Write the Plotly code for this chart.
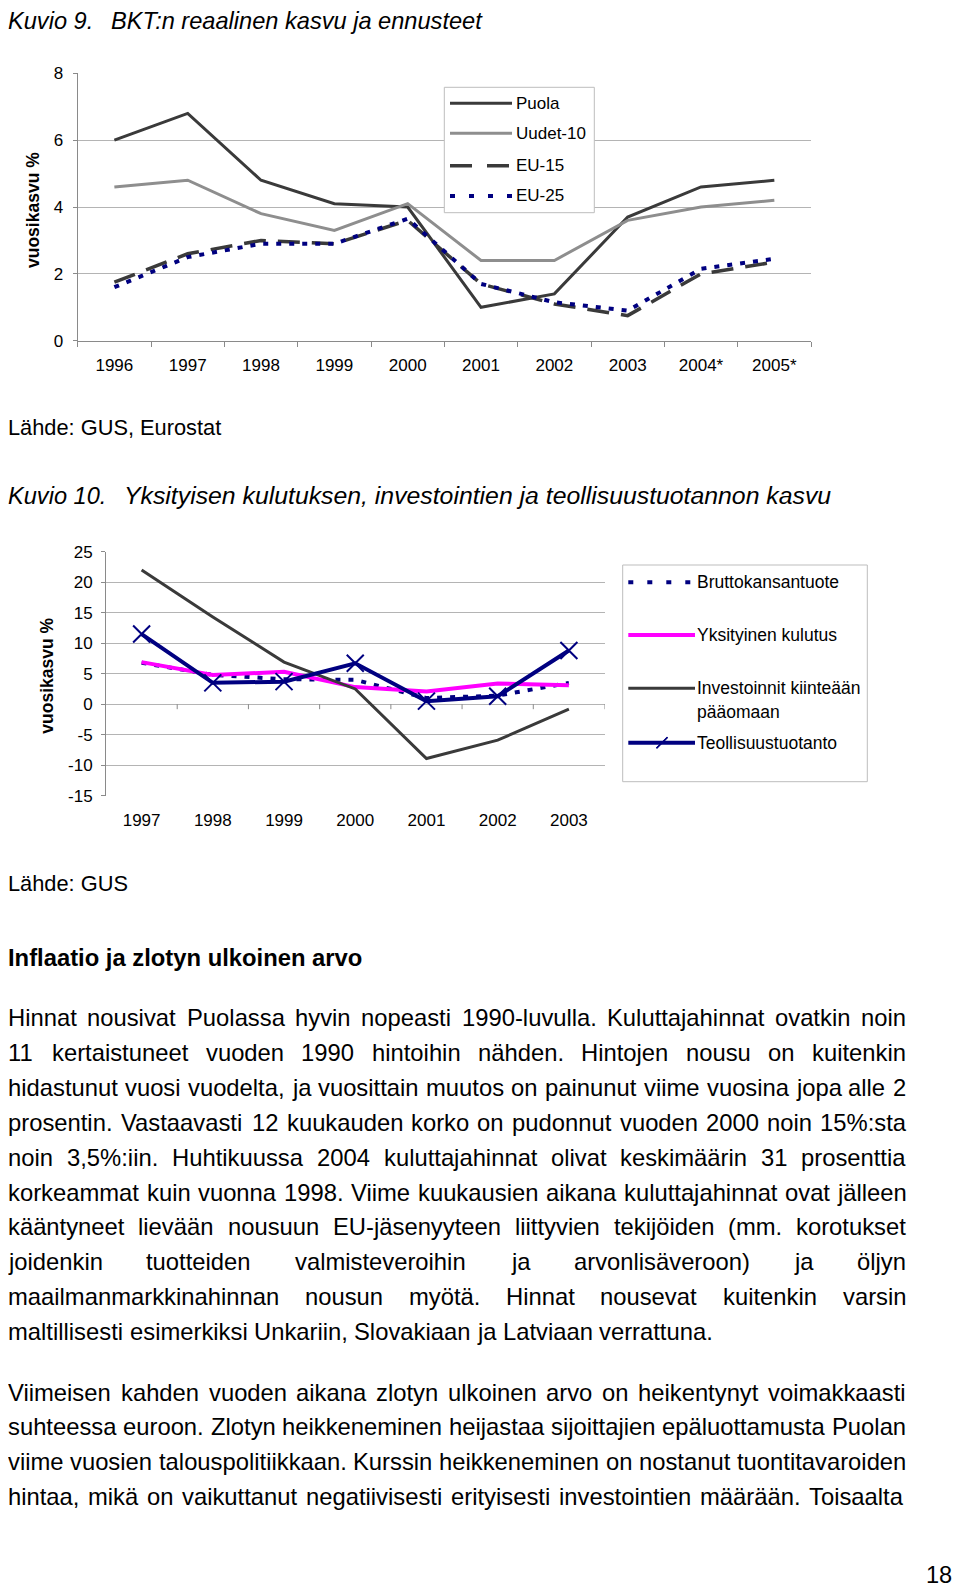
import plotly.graph_objects as go

W, H = 960, 1590
OFF = 8  # the page body margin shifts the figure by this many pixels
FONT = "Liberation Sans, Arial, sans-serif"

# ── Data: Kuvio 9 ────────────────────────────────────────────────────────────
YEARS_9 = ["1996", "1997", "1998", "1999", "2000", "2001", "2002", "2003", "2004*", "2005*"]
PUOLA = [6.0, 6.8, 4.8, 4.1, 4.0, 1.0, 1.4, 3.7, 4.6, 4.8]
UUDET_10 = [4.6, 4.8, 3.8, 3.3, 4.1, 2.4, 2.4, 3.6, 4.0, 4.2]
EU_15 = [1.75, 2.6, 3.0, 2.9, 3.6, 1.7, 1.1, 0.75, 2.0, 2.35]
EU_25 = [1.6, 2.5, 2.9, 2.9, 3.65, 1.7, 1.15, 0.9, 2.15, 2.45]
Y9_TICKS = [0, 2, 4, 6, 8]

# ── Data: Kuvio 10 ───────────────────────────────────────────────────────────
YEARS_10 = ["1997", "1998", "1999", "2000", "2001", "2002", "2003"]
BKT = [6.8, 4.8, 4.1, 4.0, 1.0, 1.4, 3.5]
KULUTUS = [6.9, 4.8, 5.3, 2.8, 2.1, 3.4, 3.1]
INVESTOINNIT = [22.0, 14.3, 6.9, 2.5, -8.9, -5.9, -0.8]
TEOLLISUUS = [11.5, 3.5, 3.7, 6.7, 0.5, 1.3, 8.8]
Y10_TICKS = [-15, -10, -5, 0, 5, 10, 15, 20, 25]
Y10_LABELS = ["-15", "-10", "-5", "0", "5", "10", "15", "20", "25"]

# ── Body text ────────────────────────────────────────────────────────────────
PARA_1 = [
    "Hinnat nousivat Puolassa hyvin nopeasti 1990-luvulla. Kuluttajahinnat ovatkin noin",
    "11 kertaistuneet vuoden 1990 hintoihin nähden. Hintojen nousu on kuitenkin",
    "hidastunut vuosi vuodelta, ja vuosittain muutos on painunut viime vuosina jopa alle 2",
    "prosentin. Vastaavasti 12 kuukauden korko on pudonnut vuoden 2000 noin 15%:sta",
    "noin 3,5%:iin. Huhtikuussa 2004 kuluttajahinnat olivat keskimäärin 31 prosenttia",
    "korkeammat kuin vuonna 1998. Viime kuukausien aikana kuluttajahinnat ovat jälleen",
    "kääntyneet lievään nousuun EU-jäsenyyteen liittyvien tekijöiden (mm. korotukset",
    "joidenkin tuotteiden valmisteveroihin ja arvonlisäveroon) ja öljyn",
    "maailmanmarkkinahinnan nousun myötä. Hinnat nousevat kuitenkin varsin",
    "maltillisesti esimerkiksi Unkariin, Slovakiaan ja Latviaan verrattuna.",
]
PARA_2 = [
    "Viimeisen kahden vuoden aikana zlotyn ulkoinen arvo on heikentynyt voimakkaasti",
    "suhteessa euroon. Zlotyn heikkeneminen heijastaa sijoittajien epäluottamusta Puolan",
    "viime vuosien talouspolitiikkaan. Kurssin heikkeneminen on nostanut tuontitavaroiden",
    "hintaa, mikä on vaikuttanut negatiivisesti erityisesti investointien määrään. Toisaalta",
]

# Arial / Liberation Sans advance widths (1/1000 em), for justifying lines
ARIAL = {" ": 278, ",": 278, ".": 278, ":": 278, "-": 333, "(": 333, ")": 333, "%": 889}
ARIAL.update({d: 556 for d in "0123456789"})
ARIAL.update(dict(zip("ABCDEFGHIJKLMNOPQRSTUVWXYZ",
                      [667, 667, 722, 722, 667, 611, 778, 722, 278, 500, 667, 556, 833,
                       722, 778, 667, 778, 722, 667, 611, 722, 667, 944, 667, 667, 611])))
ARIAL.update(dict(zip("abcdefghijklmnopqrstuvwxyz",
                      [556, 556, 500, 556, 556, 278, 556, 556, 222, 222, 500, 222, 833,
                       556, 556, 556, 556, 333, 500, 278, 556, 500, 722, 500, 500, 500])))
ARIAL.update({"ä": 556, "ö": 556, "Ä": 667, "Ö": 778})


def text_w(s, size):
    return sum(ARIAL.get(c, 556) for c in s) * size / 1000


# page pixel -> paper fraction
def px(x):
    return max(x - OFF, 0) / W


def py(y):
    return 1 - max(y - OFF, 0) / H


annotations = []
shapes = []


def label(x, y, text, size, anchor="left", yanchor="middle", **kw):
    annotations.append(dict(
        x=px(x), y=py(y), xref="paper", yref="paper", text=text, showarrow=False,
        xanchor=anchor, yanchor=yanchor, borderpad=0, borderwidth=0,
        font=dict(family=FONT, size=size, color="black"), **kw,
    ))


def hline(x0, x1, y, color, width, dash="solid"):
    shapes.append(dict(type="line", xref="paper", yref="paper", x0=px(x0), x1=px(x1),
                       y0=py(y), y1=py(y), line=dict(color=color, width=width, dash=dash)))


def box(x0, y0, x1, y1):
    shapes.append(dict(type="rect", xref="paper", yref="paper", x0=px(x0), x1=px(x1),
                       y0=py(y1), y1=py(y0), line=dict(color="#bdbdbd", width=1),
                       fillcolor="white", layer="above"))


fig = go.Figure()

# ── Kuvio 9 traces ───────────────────────────────────────────────────────────
DARK, GREY, NAVY, MAGENTA = "#3a3a3a", "#8e8e8e", "#000080", "#ff00ff"
DOTS = "5px,8px"
DASHES = "22px,12px"

fig.add_trace(go.Scatter(x=YEARS_9, y=PUOLA, mode="lines", line=dict(color=DARK, width=3)))
fig.add_trace(go.Scatter(x=YEARS_9, y=UUDET_10, mode="lines", line=dict(color=GREY, width=3)))
fig.add_trace(go.Scatter(x=YEARS_9, y=EU_15, mode="lines", line=dict(color=DARK, width=3.5, dash=DASHES)))
fig.add_trace(go.Scatter(x=YEARS_9, y=EU_25, mode="lines", line=dict(color=NAVY, width=4, dash=DOTS)))

# ── Kuvio 10 traces ──────────────────────────────────────────────────────────
fig.add_trace(go.Scatter(x=YEARS_10, y=BKT, mode="lines", xaxis="x2", yaxis="y2",
                         line=dict(color=NAVY, width=4, dash=DOTS)))
fig.add_trace(go.Scatter(x=YEARS_10, y=KULUTUS, mode="lines", xaxis="x2", yaxis="y2",
                         line=dict(color=MAGENTA, width=4)))
fig.add_trace(go.Scatter(x=YEARS_10, y=INVESTOINNIT, mode="lines", xaxis="x2", yaxis="y2",
                         line=dict(color=DARK, width=3)))
fig.add_trace(go.Scatter(x=YEARS_10, y=TEOLLISUUS, mode="lines+markers", xaxis="x2", yaxis="y2",
                         line=dict(color=NAVY, width=4),
                         marker=dict(symbol="x-thin", size=17, line=dict(color=NAVY, width=2))))

# ── Axes ─────────────────────────────────────────────────────────────────────
AX_LINE, GRID = "#8a8a8a", "#b4b4b4"
tickfont = dict(family=FONT, size=17, color="black")

x9 = dict(domain=[px(77.7), px(811)], type="category", range=[-0.5, len(YEARS_9) - 0.5],
          showline=True, linecolor=AX_LINE, ticks="outside", tickson="boundaries", ticklen=5,
          tickcolor=AX_LINE, showgrid=False, tickfont=tickfont, ticklabelstandoff=9,
          anchor="y", automargin=False)
y9 = dict(domain=[py(340.7), py(73.3)], range=[0, 8], tickvals=Y9_TICKS, showline=True,
          linecolor=AX_LINE, ticks="outside", ticklen=4, tickcolor=AX_LINE, showgrid=True,
          gridcolor=GRID, zeroline=False, tickfont=tickfont, ticklabelstandoff=6,
          anchor="x", automargin=False)
x10 = dict(domain=[px(106), px(604.5)], type="category", range=[-0.5, len(YEARS_10) - 0.5],
           showline=False, ticks="", showgrid=False, tickfont=tickfont, ticklabelstandoff=12,
           anchor="y2", automargin=False)
y10 = dict(domain=[py(795.7), py(551.7)], range=[-15, 25], tickvals=Y10_TICKS,
           ticktext=Y10_LABELS, showline=True, linecolor=AX_LINE, ticks="outside", ticklen=4,
           tickcolor=AX_LINE, showgrid=True, gridcolor=GRID, zeroline=False,
           tickfont=tickfont, ticklabelstandoff=5, anchor="x2", automargin=False)

# category tick marks on the zero line of Kuvio 10
for i in range(len(YEARS_10)):
    shapes.append(dict(type="line", xref="x2", yref="y2", ysizemode="pixel", yanchor=0,
                       x0=i + 0.5, x1=i + 0.5, y0=0, y1=-5, line=dict(color=AX_LINE, width=1)))

# ── Titles, axis titles, sources ─────────────────────────────────────────────
label(2, OFF, "<i>Kuvio 9.</i>", 23.6, yanchor="top")
label(111, OFF, "<i>BKT:n reaalinen kasvu ja ennusteet</i>", 23.6, yanchor="top")
label(33, 210, "<b>vuosikasvu %</b>", 17.5, anchor="center", textangle=-90)
label(2, 428, "Lähde: GUS, Eurostat", 21.8)

label(2, 496, "<i>Kuvio 10.</i>", 23.6)
label(124, 496, "<i>Yksityisen kulutuksen, investointien ja teollisuustuotannon kasvu</i>", 24.8)
label(46.7, 676, "<b>vuosikasvu %</b>", 17.5, anchor="center", textangle=-90)
label(2, 883, "Lähde: GUS", 21.8)

# ── Legend, Kuvio 9 ──────────────────────────────────────────────────────────
box(444.3, 87.3, 594.3, 212.7)
for y, name, col, w, dash in (
    (103.3, "Puola", DARK, 3, "solid"),
    (133.3, "Uudet-10", GREY, 3, "solid"),
    (165.7, "EU-15", DARK, 3.5, "22px,15px"),
    (196.0, "EU-25", NAVY, 4, "5px,14px"),
):
    hline(450, 512, y, col, w, dash)
    label(516, y, name, 17)

# ── Legend, Kuvio 10 ─────────────────────────────────────────────────────────
box(622.7, 565, 867.3, 781.7)
hline(628.3, 695, 582.3, NAVY, 4, "5px,14px")
label(697, 582.3, "Bruttokansantuote", 17.5)
hline(628.3, 695, 635, MAGENTA, 4)
label(697, 635, "Yksityinen kulutus", 17.5)
hline(628.3, 695, 688.3, DARK, 3)
label(697, 688.3, "Investoinnit kiinteään", 17.5)
label(697, 712.3, "pääomaan", 17.5)
hline(628.3, 695, 742.7, NAVY, 4)
for a, b in ((-5.5, 5.5), (5.5, -5.5)):
    shapes.append(dict(type="line", xref="paper", yref="paper", x0=px(662 + a), x1=px(662 - a),
                       y0=py(742.7 + b), y1=py(742.7 - b), line=dict(color=NAVY, width=1.5)))
label(697, 742.7, "Teollisuustuotanto", 17.5)

# ── Body text (justified) ────────────────────────────────────────────────────
BODY = 23.8
LEFT, RIGHT = OFF, 906
label(LEFT, 957.5, "<b>Inflaatio ja zlotyn ulkoinen arvo</b>", 23.8)


def paragraph(lines, y0, step=34.9):
    for k, line in enumerate(lines):
        y = y0 + k * step
        justify = not (lines is PARA_1 and k == len(lines) - 1)
        words = line.split(" ")
        widths = [text_w(w, BODY) for w in words]
        if justify and len(words) > 1:
            gap = (RIGHT - LEFT - sum(widths)) / (len(words) - 1)
        else:
            gap = text_w(" ", BODY)
        x = LEFT
        for w, ww in zip(words, widths):
            label(x, y, w, BODY)
            x += ww + gap


paragraph(PARA_1, 1017.5)
paragraph(PARA_2, 1392)
label(952, 1575, "18", 23.6, anchor="right")

fig.update_layout(
    width=W, height=H, margin=dict(l=0, r=0, t=0, b=0, autoexpand=False),
    paper_bgcolor="white", plot_bgcolor="white", showlegend=False,
    font=dict(family=FONT, color="black"),
    xaxis=x9, yaxis=y9, xaxis2=x10, yaxis2=y10,
    annotations=annotations, shapes=shapes,
)

fig.write_html("out.html")
